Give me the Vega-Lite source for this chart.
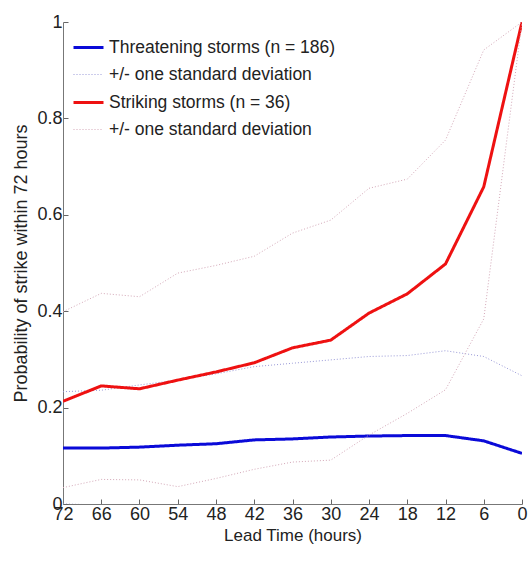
{
  "$schema": "https://vega.github.io/schema/vega-lite/v6.json",
  "autosize": {"type": "none"},
  "padding": {"left": 63, "top": 22, "right": 7, "bottom": 59},
  "width": 459,
  "height": 482,
  "background": "white",
  "config": {
    "view": {"stroke": null},
    "font": "Liberation Sans",
    "legend": {
      "title": null,
      "orient": "none",
      "legendX": 9,
      "legendY": 9,
      "symbolType": "stroke",
      "symbolSize": 900,
      "labelFontSize": 17.5,
      "labelColor": "#222",
      "labelOffset": 4,
      "labelLimit": 0,
      "rowPadding": 3
    }
  },
  "data": {
    "values": [
      {"hours": 72, "value": 0.116, "series": "T", "line": "T"},
      {"hours": 66, "value": 0.116, "series": "T", "line": "T"},
      {"hours": 60, "value": 0.118, "series": "T", "line": "T"},
      {"hours": 54, "value": 0.122, "series": "T", "line": "T"},
      {"hours": 48, "value": 0.125, "series": "T", "line": "T"},
      {"hours": 42, "value": 0.133, "series": "T", "line": "T"},
      {"hours": 36, "value": 0.135, "series": "T", "line": "T"},
      {"hours": 30, "value": 0.139, "series": "T", "line": "T"},
      {"hours": 24, "value": 0.141, "series": "T", "line": "T"},
      {"hours": 18, "value": 0.142, "series": "T", "line": "T"},
      {"hours": 12, "value": 0.142, "series": "T", "line": "T"},
      {"hours": 6, "value": 0.131, "series": "T", "line": "T"},
      {"hours": 0, "value": 0.105, "series": "T", "line": "T"},

      {"hours": 72, "value": 0.233, "series": "Tsd", "line": "Tup"},
      {"hours": 66, "value": 0.236, "series": "Tsd", "line": "Tup"},
      {"hours": 60, "value": 0.247, "series": "Tsd", "line": "Tup"},
      {"hours": 54, "value": 0.257, "series": "Tsd", "line": "Tup"},
      {"hours": 48, "value": 0.27, "series": "Tsd", "line": "Tup"},
      {"hours": 42, "value": 0.285, "series": "Tsd", "line": "Tup"},
      {"hours": 36, "value": 0.292, "series": "Tsd", "line": "Tup"},
      {"hours": 30, "value": 0.299, "series": "Tsd", "line": "Tup"},
      {"hours": 24, "value": 0.306, "series": "Tsd", "line": "Tup"},
      {"hours": 18, "value": 0.308, "series": "Tsd", "line": "Tup"},
      {"hours": 12, "value": 0.318, "series": "Tsd", "line": "Tup"},
      {"hours": 6, "value": 0.306, "series": "Tsd", "line": "Tup"},
      {"hours": 0, "value": 0.266, "series": "Tsd", "line": "Tup"},

      {"hours": 72, "value": 0.0, "series": "Tsd", "line": "Tlo"},
      {"hours": 66, "value": -0.002, "series": "Tsd", "line": "Tlo"},
      {"hours": 60, "value": -0.011, "series": "Tsd", "line": "Tlo"},
      {"hours": 54, "value": -0.013, "series": "Tsd", "line": "Tlo"},
      {"hours": 48, "value": -0.02, "series": "Tsd", "line": "Tlo"},
      {"hours": 42, "value": -0.019, "series": "Tsd", "line": "Tlo"},
      {"hours": 36, "value": -0.022, "series": "Tsd", "line": "Tlo"},
      {"hours": 30, "value": -0.021, "series": "Tsd", "line": "Tlo"},
      {"hours": 24, "value": -0.024, "series": "Tsd", "line": "Tlo"},
      {"hours": 18, "value": -0.024, "series": "Tsd", "line": "Tlo"},
      {"hours": 12, "value": -0.034, "series": "Tsd", "line": "Tlo"},
      {"hours": 6, "value": -0.044, "series": "Tsd", "line": "Tlo"},
      {"hours": 0, "value": -0.056, "series": "Tsd", "line": "Tlo"},

      {"hours": 72, "value": 0.213, "series": "S", "line": "S"},
      {"hours": 66, "value": 0.245, "series": "S", "line": "S"},
      {"hours": 60, "value": 0.239, "series": "S", "line": "S"},
      {"hours": 54, "value": 0.257, "series": "S", "line": "S"},
      {"hours": 48, "value": 0.274, "series": "S", "line": "S"},
      {"hours": 42, "value": 0.293, "series": "S", "line": "S"},
      {"hours": 36, "value": 0.324, "series": "S", "line": "S"},
      {"hours": 30, "value": 0.34, "series": "S", "line": "S"},
      {"hours": 24, "value": 0.396, "series": "S", "line": "S"},
      {"hours": 18, "value": 0.436, "series": "S", "line": "S"},
      {"hours": 12, "value": 0.498, "series": "S", "line": "S"},
      {"hours": 6, "value": 0.658, "series": "S", "line": "S"},
      {"hours": 0, "value": 1.0, "series": "S", "line": "S"},

      {"hours": 72, "value": 0.399, "series": "Ssd", "line": "Sup"},
      {"hours": 66, "value": 0.437, "series": "Ssd", "line": "Sup"},
      {"hours": 60, "value": 0.43, "series": "Ssd", "line": "Sup"},
      {"hours": 54, "value": 0.479, "series": "Ssd", "line": "Sup"},
      {"hours": 48, "value": 0.495, "series": "Ssd", "line": "Sup"},
      {"hours": 42, "value": 0.514, "series": "Ssd", "line": "Sup"},
      {"hours": 36, "value": 0.562, "series": "Ssd", "line": "Sup"},
      {"hours": 30, "value": 0.589, "series": "Ssd", "line": "Sup"},
      {"hours": 24, "value": 0.655, "series": "Ssd", "line": "Sup"},
      {"hours": 18, "value": 0.674, "series": "Ssd", "line": "Sup"},
      {"hours": 12, "value": 0.755, "series": "Ssd", "line": "Sup"},
      {"hours": 6, "value": 0.942, "series": "Ssd", "line": "Sup"},
      {"hours": 0, "value": 1.0, "series": "Ssd", "line": "Sup"},

      {"hours": 72, "value": 0.034, "series": "Ssd", "line": "Slo"},
      {"hours": 66, "value": 0.051, "series": "Ssd", "line": "Slo"},
      {"hours": 60, "value": 0.05, "series": "Ssd", "line": "Slo"},
      {"hours": 54, "value": 0.036, "series": "Ssd", "line": "Slo"},
      {"hours": 48, "value": 0.053, "series": "Ssd", "line": "Slo"},
      {"hours": 42, "value": 0.072, "series": "Ssd", "line": "Slo"},
      {"hours": 36, "value": 0.087, "series": "Ssd", "line": "Slo"},
      {"hours": 30, "value": 0.091, "series": "Ssd", "line": "Slo"},
      {"hours": 24, "value": 0.143, "series": "Ssd", "line": "Slo"},
      {"hours": 18, "value": 0.188, "series": "Ssd", "line": "Slo"},
      {"hours": 12, "value": 0.237, "series": "Ssd", "line": "Slo"},
      {"hours": 6, "value": 0.384, "series": "Ssd", "line": "Slo"},
      {"hours": 0, "value": 1.0, "series": "Ssd", "line": "Slo"}
    ]
  },
  "mark": {"type": "line", "clip": true},
  "encoding": {
    "x": {
      "field": "hours",
      "type": "quantitative",
      "scale": {"domain": [0, 72], "reverse": true, "nice": false, "zero": false},
      "axis": {
        "title": "Lead Time (hours)",
        "values": [0, 6, 12, 18, 24, 30, 36, 42, 48, 54, 60, 66, 72],
        "grid": false,
        "tickSize": -5,
        "tickColor": "#666",
        "domainColor": "#777",
        "labelFontSize": 18,
        "labelColor": "#222",
        "labelPadding": 6,
        "labelFlush": false,
        "titleFontSize": 17,
        "titleFontWeight": "normal",
        "titleColor": "#222",
        "titlePadding": 4
      }
    },
    "y": {
      "field": "value",
      "type": "quantitative",
      "scale": {"domain": [0, 1], "nice": false},
      "axis": {
        "title": "Probability of strike within 72 hours",
        "values": [0, 0.2, 0.4, 0.6, 0.8, 1],
        "format": "~g",
        "grid": false,
        "tickSize": -5,
        "tickColor": "#666",
        "domainColor": "#777",
        "labelFontSize": 18,
        "labelColor": "#222",
        "labelPadding": 6,
        "labelFlush": false,
        "titleFontSize": 18,
        "titleFontWeight": "normal",
        "titleColor": "#222",
        "titlePadding": 6
      }
    },
    "detail": {"field": "line"},
    "color": {
      "field": "series",
      "type": "nominal",
      "scale": {
        "domain": ["T", "Tsd", "S", "Ssd"],
        "range": ["#0a0ad8", "#9a9ad8", "#ee1111", "#d4a8b8"]
      },
      "legend": {
        "labelExpr": "datum.value == 'T' ? 'Threatening storms (n = 186)' : datum.value == 'S' ? 'Striking storms (n = 36)' : '+/- one standard deviation'"
      }
    },
    "strokeDash": {
      "field": "series",
      "type": "nominal",
      "scale": {
        "type": "ordinal",
        "domain": ["T", "Tsd", "S", "Ssd"],
        "range": [[1, 0], [1, 2], [1, 0], [1, 2]]
      },
      "legend": {
        "labelExpr": "datum.value == 'T' ? 'Threatening storms (n = 186)' : datum.value == 'S' ? 'Striking storms (n = 36)' : '+/- one standard deviation'"
      }
    },
    "strokeWidth": {
      "field": "series",
      "type": "nominal",
      "scale": {
        "type": "ordinal",
        "domain": ["T", "Tsd", "S", "Ssd"],
        "range": [3, 1, 3, 1]
      },
      "legend": {
        "labelExpr": "datum.value == 'T' ? 'Threatening storms (n = 186)' : datum.value == 'S' ? 'Striking storms (n = 36)' : '+/- one standard deviation'"
      }
    }
  }
}
